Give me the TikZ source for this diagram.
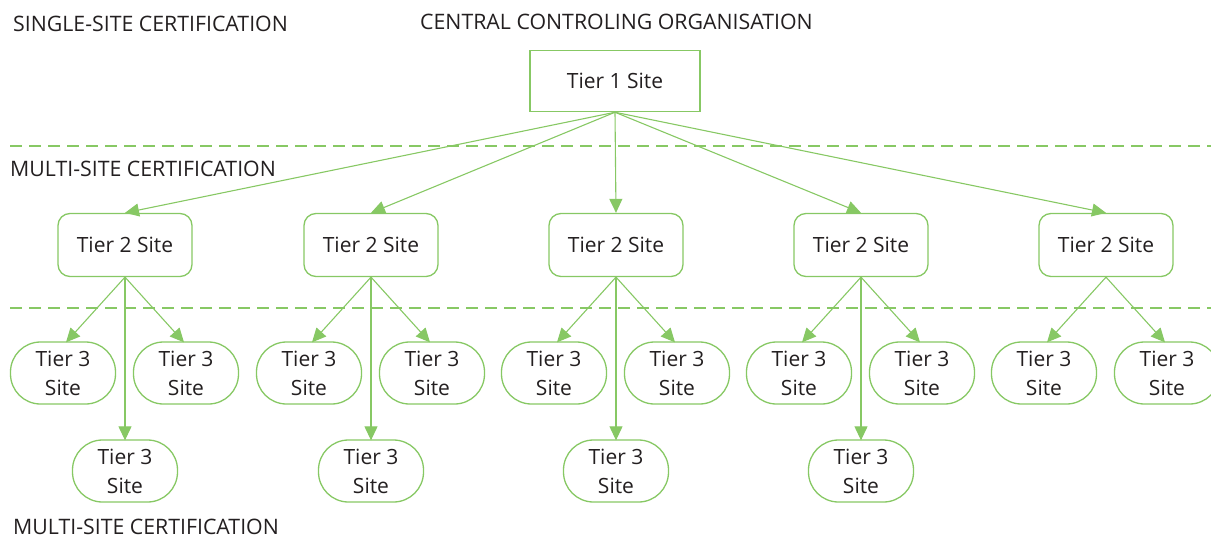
\documentclass[tikz,border=0pt]{standalone}
\usepackage{fontspec}
\setmainfont{Open Sans}
\usetikzlibrary{arrows.meta}
\definecolor{grn}{RGB}{135,200,100}
\definecolor{txt}{RGB}{35,31,32}
\begin{document}
\begin{tikzpicture}[x=1pt,y=-1pt,
  every node/.style={text=txt, inner sep=0pt},
  lbl/.style={font=\fontsize{21.3}{24}\selectfont, anchor=base west},
  tierone/.style={draw=grn, line width=1.5pt, minimum width=170pt, minimum height=61pt, font=\fontsize{21}{24}\selectfont},
  tiertwo/.style={draw=grn, line width=1.3pt, rounded corners=12pt, minimum width=134pt, minimum height=63pt, font=\fontsize{21}{24}\selectfont},
  tierthree/.style={draw=grn, line width=1.3pt, rounded corners=30pt, minimum width=105pt, minimum height=62pt, align=center, font=\fontsize{21}{29}\selectfont},
  arr/.style={draw=grn, line width=1.1pt, -{Triangle[length=14pt,width=13pt]}},
  sep/.style={draw=grn, line width=2.8pt, dash pattern=on 12pt off 7pt}
]
\useasboundingbox (0,0) rectangle (1211,538);
\begin{scope}
\clip (0,0) rectangle (1211,538);

\node[lbl] (single) at (13,31) {SINGLE-SITE CERTIFICATION};
\node[lbl] (central) at (420,30) {CENTRAL CONTROLING ORGANISATION};
\node[lbl] (multi1) at (10,176) {MULTI-SITE CERTIFICATION};
\node[lbl] (multi2) at (13,534) {MULTI-SITE CERTIFICATION};

\coordinate (s1a) at (10,146);
\coordinate (s1b) at (1211,146);
\coordinate (s2a) at (10,308);
\coordinate (s2b) at (1211,308);
\draw[sep] (s1a) -- (s1b);
\draw[sep] (s2a) -- (s2b);

\node[tierone] (t1) at (615,81) {Tier 1 Site};

\foreach \i/\x in {1/125,2/371,3/616,4/861,5/1106}{
  \node[tiertwo] (t2\i) at (\x,245) {Tier 2 Site};
  \draw[arr] (t1.south) -- (t2\i.north);
  \node[tierthree] (l\i) at (\x-62,373) {Tier 3\\Site};
  \node[tierthree] (r\i) at (\x+61,373) {Tier 3\\Site};
  \draw[arr] (t2\i.south) -- ([xshift=3pt,yshift=-1pt]l\i.north);
  \draw[arr] (t2\i.south) -- ([xshift=-2pt,yshift=-1pt]r\i.north);
}
\foreach \i/\x in {1/125,2/371,3/616,4/861}{
  \node[tierthree] (b\i) at (\x,471) {Tier 3\\Site};
  \draw[arr] (t2\i.south) -- ([yshift=-1pt]b\i.north);
}
\end{scope}
\end{tikzpicture}
\end{document}
